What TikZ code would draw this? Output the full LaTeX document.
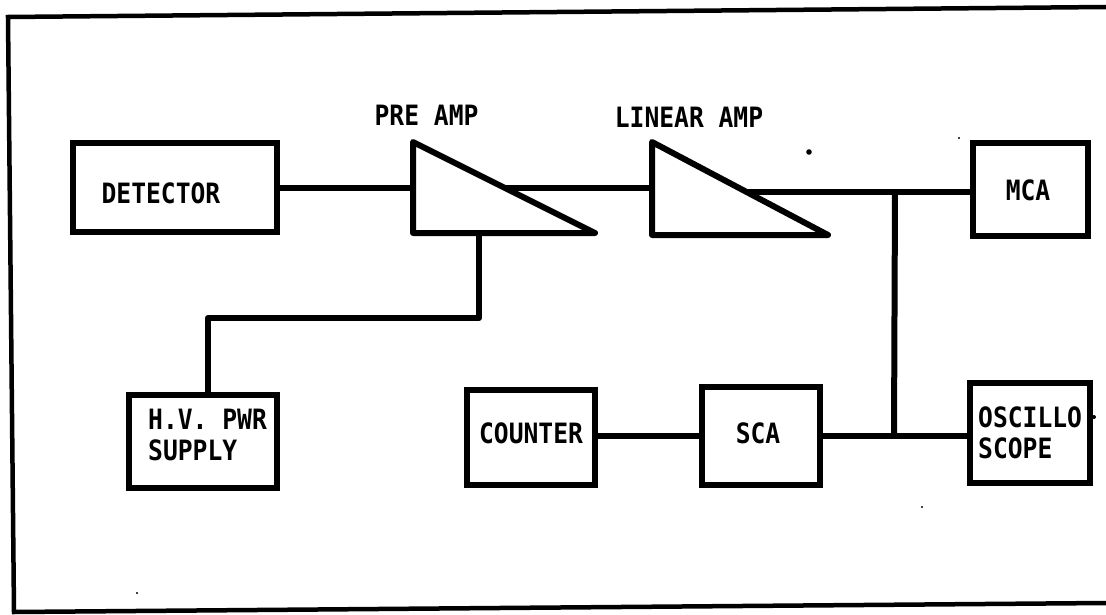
\documentclass[tikz,border=0pt]{standalone}
\usepackage{fontspec}
\usetikzlibrary{calc}
\newfontfamily\lbfont[FakeStretch=0.88]{DejaVu Sans Mono}
\begin{document}
\begin{tikzpicture}[x=1pt,y=-1pt,
  wire/.style={line width=6pt, line join=round},
  box/.style={draw, line width=6pt, inner sep=0pt, rectangle},
  lbl/.style={font=\lbfont\bfseries\fontsize{28}{31}\selectfont, inner sep=0pt},
  frame/.style={line width=4.5pt},
  speck/.style={fill=black}]
\useasboundingbox (0,0) rectangle (1106,615);
\fill[white] (0,0) rectangle (1106,615);
% frame
\draw[frame] (1106,7) -- (8,17) -- (14,612) -- (1106,603);
% boxes
\node[box, minimum width=204, minimum height=89] (det) at (175,187.5) {};
\node[lbl] (detT) at (161,193) {DETECTOR};
\node[box, minimum width=115, minimum height=93] (mca) at (1030.5,189.5) {};
\node[lbl] (mcaT) at (1028,190) {MCA};
\node[box, minimum width=148, minimum height=93] (hv) at (203,441.5) {};
\node[lbl, align=left, anchor=west] (hvT) at (148,435) {H.V. PWR\\SUPPLY};
\node[box, minimum width=128, minimum height=95] (cnt) at (531,437.5) {};
\node[lbl] (cntT) at (531,433) {COUNTER};
\node[box, minimum width=118, minimum height=98] (sca) at (761,436) {};
\node[lbl] (scaT) at (758,433) {SCA};
\node[box, minimum width=120, minimum height=100] (osc) at (1030,433) {};
\node[lbl, align=left, anchor=west] (oscT) at (978,432.5) {OSCILLO\\SCOPE};
% amplifiers
\coordinate (pa-t) at (413,142);
\coordinate (pa-b) at (413,233);
\coordinate (pa-tip) at (595,233);
\draw[wire] (pa-t) -- (pa-b) -- (pa-tip) -- cycle;
\node[lbl] (paT) at (426.5,115) {PRE AMP};
\coordinate (la-t) at (652,142);
\coordinate (la-b) at (652,235);
\coordinate (la-tip) at (828,235);
\draw[wire] (la-t) -- (la-b) -- (la-tip) -- cycle;
\node[lbl] (laT) at (689,117) {LINEAR AMP};
% named connector points
\coordinate (pa-out) at ($(pa-t)!0.505!(pa-tip)$);
\coordinate (la-out) at ($(la-t)!0.54!(la-tip)$);
\coordinate (pa-hv) at (479,233);
\coordinate (hv-c1) at (479,318);
\coordinate (hv-c2) at (208,318);
\coordinate (j1) at (895,192);
\coordinate (j2) at (894,436);
% connectors
\draw[wire] (det.east) -- (det.east -| pa-t);
\draw[wire] (pa-out) -- (pa-out -| la-t);
\draw[wire] (la-out) -- (la-out -| mca.west);
\draw[wire] (pa-hv) -- (hv-c1) -- (hv-c2) -- (hv-c2 |- hv.north);
\draw[wire] (j1) -- (j2);
\draw[wire] (cnt.east |- j2) -- (j2 -| sca.west);
\draw[wire] (sca.east |- j2) -- (j2 -| osc.west);
% scan specks
\fill[speck] (809,152) circle (2.8);
\fill[speck] (959,138) circle (1.2);
\fill[speck] (137,593) circle (1.2);
\fill[speck] (922,507) circle (1.2);
\fill[speck] (1094,417) circle (2);
\end{tikzpicture}
\end{document}
